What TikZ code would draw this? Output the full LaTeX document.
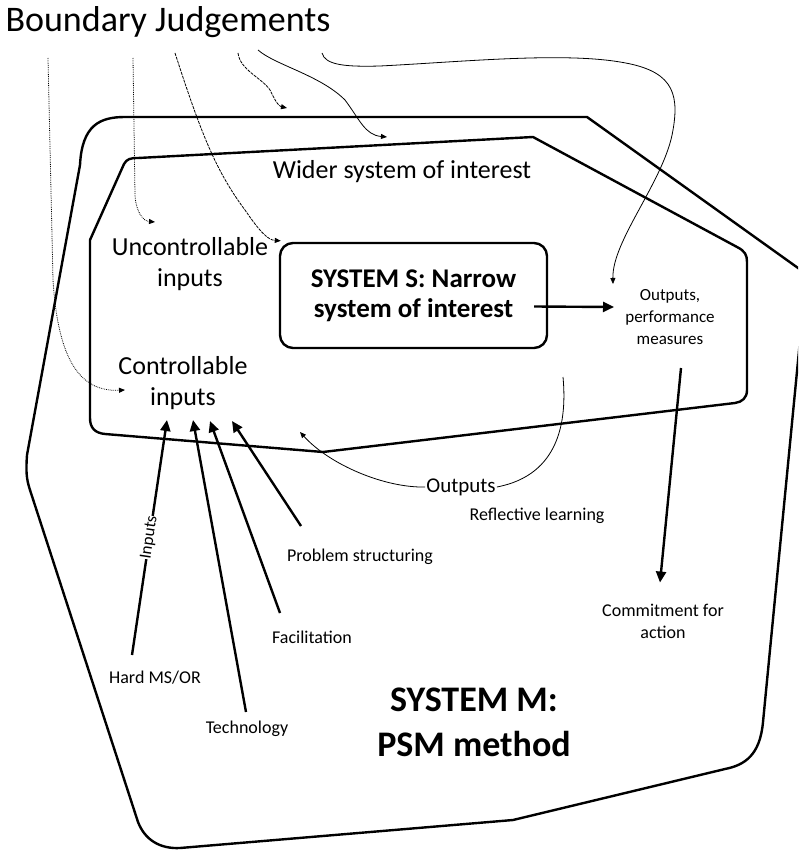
\documentclass[tikz,border=0pt]{standalone}
\usepackage{fontspec}
\setmainfont{Carlito}
\usetikzlibrary{arrows.meta,calc}
\tikzset{
  boundary/.style={line width=2.4pt, line join=round},
  bigarrow/.style={line width=2.4pt, -{Triangle[length=11pt,width=10pt]}},
  thinarrow/.style={line width=0.8pt, -{Triangle[length=6pt,width=5pt]}},
  dotarrow/.style={thinarrow, densely dotted},
  dasharrow/.style={thinarrow, dash pattern=on 3pt off 1pt},
  lbl/.style={inner sep=1pt, align=center},
  small/.style={lbl, font=\fontsize{18}{22}\selectfont},
  mid/.style={lbl, font=\fontsize{26}{31.5}\selectfont},
}
\begin{document}
\begin{tikzpicture}[x=1pt,y=-1pt]
\useasboundingbox (0,0) rectangle (798,850);
\clip (0,0) rectangle (798,850);

% outer boundary: System M
\draw[boundary] (80,165) .. controls (82,125) and (100,117) .. (125,117) -- (587,117) -- (812,278) -- (801,330) -- (763,722)
  .. controls (760,755) and (745,765) .. (725,769) -- (513,820) -- (180,848)
  .. controls (160,849) and (145,840) .. (138,822) -- (30,490)
  .. controls (26,478) and (26,470) .. (27,455) -- cycle;

% inner boundary: wider system
\draw[boundary] (90,240) -- (124,164) .. controls (127,159) and (130,158) .. (138,158) -- (533,137) -- (737,247)
  .. controls (745,251) and (747,255) .. (747,262) -- (747,390)
  .. controls (747,398) and (742,402) .. (735,403) -- (323,452) -- (105,434)
  .. controls (95,433) and (90,428) .. (90,418) -- cycle;

% texts
\node[lbl, font=\fontsize{36}{40}\selectfont] (title) at (168,22) {Boundary Judgements};
\node[mid] (wider) at (402,172) {Wider system of interest};
\node[mid] (unctrl) at (190,264) {Uncontrollable\\inputs};
\node[mid] (ctrl) at (183,383) {Controllable\\inputs};
\node[draw, line width=2.4pt, rounded corners=13pt, minimum width=267pt, minimum height=105pt,
      align=center, font=\bfseries\fontsize{27}{30}\selectfont] (sys) at (413.5,295.5) {SYSTEM S: Narrow\\system of interest};
\node[lbl, font=\fontsize{17}{22}\selectfont] (perf) at (670,317) {Outputs,\\performance\\measures};
\node[lbl, font=\fontsize{18}{22}\selectfont] (commit) at (663,621) {Commitment for\\action};
\node[lbl, font=\fontsize{21}{24}\selectfont] (outs) at (461,487) {Outputs};
\node[small] (refl) at (537,516) {Reflective learning};
\node[small] (prob) at (360,557) {Problem structuring};
\node[small] (facil) at (312,637) {Facilitation};
\node[small] (hard) at (155,678) {Hard MS/OR};
\node[small] (tech) at (247,729) {Technology};
\node[lbl, font=\bfseries\fontsize{36}{45}\selectfont] (sysm) at (474,722) {SYSTEM M:\\PSM method};

% coordinates for free ends
\coordinate (b1) at (48,58);
\coordinate (b2) at (133,58);
\coordinate (b3) at (175,53);
\coordinate (b4) at (238,53);
\coordinate (b5) at (258,50);
\coordinate (b6) at (322,53);
\coordinate (e4) at (287,108);
\coordinate (e5) at (387,137);
\coordinate (tipH) at (167,420);
\coordinate (tipT) at (193,420);
\coordinate (tipF) at (210,421);
\coordinate (tipP) at (232,421);
\coordinate (sH) at (132,655);
\coordinate (sT) at (246,712);
\coordinate (sF) at (280,613);
\coordinate (sP) at (301,526);
\coordinate (oStart) at (563,377);
\coordinate (oEnd) at (300,432);

% boundary judgement arrows
\draw[dotarrow] (b1) -- (53,280) .. controls (58,360) and (80,392) .. (125,390);
\draw[dotarrow] (b2) -- (135,195) .. controls (136,212) and (143,221) .. (155,222);
\draw[dasharrow] (b3) .. controls (200,130) and (215,170) .. (245,210) .. controls (260,232) and (268,240) .. ($(sys.north west)+(2,-1)$);
\draw[dasharrow] (b4) .. controls (240,70) and (262,78) .. (270,90) .. controls (275,100) and (278,106) .. (e4);
\draw[thinarrow] (b5) .. controls (275,65) and (320,75) .. (345,100) .. controls (360,120) and (365,135) .. (e5);
\draw[thinarrow] (b6) .. controls (325,65) and (345,67) .. (380,66) .. controls (460,62) and (560,52) .. (620,62)
  .. controls (670,70) and (680,90) .. (673,130) .. controls (665,180) and (612,240) .. (613,284);

% main flow arrows
\draw[bigarrow] ($(sys.east)+(-14,11)$) -- (614,307);
\draw[bigarrow] (681,368) -- ($(commit.north)+(-3,-20)$);

% outputs / reflective learning loop
\draw[line width=0.8pt] (oStart) .. controls (567,420) and (560,475) .. (outs.east);
\draw[thinarrow] (outs.west) .. controls (385,488) and (330,465) .. (oEnd);

% inputs arrows
\draw[bigarrow] (sH) -- node[sloped, lbl, inner sep=0pt, fill=white, font=\fontsize{17}{18}\selectfont, pos=0.5] {Inputs} (tipH);
\draw[bigarrow] (sT) -- (tipT);
\draw[bigarrow] (sF) -- (tipF);
\draw[bigarrow] (sP) -- (tipP);
\end{tikzpicture}
\end{document}
